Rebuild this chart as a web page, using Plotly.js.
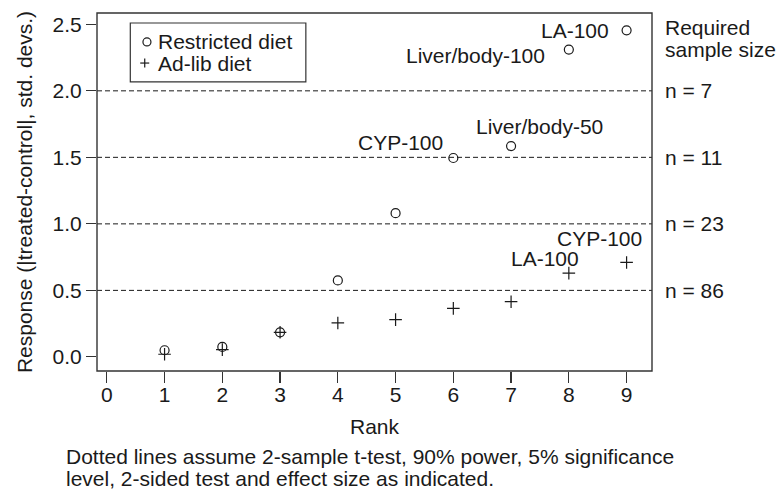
<!DOCTYPE html>
<html>
<head>
<meta charset="utf-8">
<script src="https://cdn.plot.ly/plotly-3.0.1.min.js"></script>
<style>html,body{margin:0;padding:0;background:#fff;}#chart{width:778px;height:491px;}</style>
</head>
<body>
<div id="chart"></div>
<script>
// Data
const ranks = [1, 2, 3, 4, 5, 6, 7, 8, 9];
const restricted = [0.05, 0.075, 0.185, 0.575, 1.08, 1.495, 1.585, 2.31, 2.455];
const adlib = [0.02, 0.055, 0.185, 0.255, 0.28, 0.365, 0.415, 0.63, 0.71];
const seriesNames = ["Restricted diet", "Ad-lib diet"];
const thresholds = [0.5, 1.0, 1.5, 2.0];
const sampleSizes = ["n = 86", "n = 23", "n = 11", "n = 7"];
const xTicks = [0, 1, 2, 3, 4, 5, 6, 7, 8, 9];
const yTicks = [0, 0.5, 1.0, 1.5, 2.0, 2.5];
// point labels: [series, rank index, text]
const pointLabels = [
  ["R", 8, "LA-100"],
  ["R", 7, "Liver/body-100"],
  ["R", 5, "CYP-100"],
  ["R", 6, "Liver/body-50"],
  ["A", 8, "CYP-100"],
  ["A", 7, "LA-100"]
];
const captionLines = [
  "Dotted lines assume 2-sample t-test, 90% power, 5% significance",
  "level, 2-sided test and effect size as indicated."
];

const FONT = "Liberation Sans, Arial, Helvetica, sans-serif";
const FS = 21;
const INK = "#1a1a1a";

const traces = [
  {x: ranks, y: restricted, name: seriesNames[0], type: "scatter", mode: "markers", showlegend: false,
   marker: {symbol: "circle-open", size: 9, color: INK, line: {width: 1.2, color: INK}}},
  {x: ranks, y: adlib, name: seriesNames[1], type: "scatter", mode: "markers", showlegend: false,
   marker: {symbol: "cross-thin-open", size: 9, color: INK, line: {width: 1.2, color: INK}}}
];

// label offsets (style, not data)
const labelStyle = {
  "R8": {xanchor: "right", xshift: -16, yshift: 0},
  "R7": {xanchor: "right", xshift: -22, yshift: -6},
  "R5": {xanchor: "right", xshift: -8, yshift: 16},
  "R6": {xanchor: "left", xshift: -37, yshift: 20},
  "A8": {xanchor: "right", xshift: 17, yshift: 24},
  "A7": {xanchor: "right", xshift: 12, yshift: 15}
};

const annotations = [];
pointLabels.forEach(([s, i, t]) => {
  const st = labelStyle[s + i];
  annotations.push({x: ranks[i], y: (s === "R" ? restricted : adlib)[i], xref: "x", yref: "y",
    text: t, showarrow: false, xanchor: st.xanchor, yanchor: "middle",
    xshift: st.xshift, yshift: st.yshift, font: {family: FONT, size: FS, color: INK}});
});
thresholds.forEach((v, k) => {
  annotations.push({x: 1, xref: "paper", y: v, yref: "y", text: sampleSizes[k], showarrow: false,
    xanchor: "left", yanchor: "middle", xshift: 11, font: {family: FONT, size: FS, color: INK}});
});
annotations.push({x: 1, xref: "paper", y: 0.959, yref: "paper", text: "Required", showarrow: false,
  xanchor: "left", yanchor: "middle", xshift: 11, font: {family: FONT, size: FS, color: INK}});
annotations.push({x: 1, xref: "paper", y: 0.897, yref: "paper", text: "sample size", showarrow: false,
  xanchor: "left", yanchor: "middle", xshift: 11, font: {family: FONT, size: FS, color: INK}});
captionLines.forEach((t, k) => {
  annotations.push({x: 0, xref: "paper", y: [-0.2384, -0.3003][k], yref: "paper", text: t, showarrow: false,
    xanchor: "left", yanchor: "middle", xshift: -32, borderpad: 0, font: {family: FONT, size: FS, color: INK}});
});

// legend (drawn as a key box in paper space)
const legX = 0.0900, legRowY = [0.9191, 0.8602];
annotations.push({x: legX, xref: "paper", y: legRowY[0], yref: "paper", text: seriesNames[0], showarrow: false,
  xanchor: "left", yanchor: "middle", xshift: 9, font: {family: FONT, size: FS, color: INK}});
annotations.push({x: legX, xref: "paper", y: legRowY[1], yref: "paper", text: seriesNames[1], showarrow: false,
  xanchor: "left", yanchor: "middle", xshift: 9, font: {family: FONT, size: FS, color: INK}});

const shapes = thresholds.map(v => ({type: "line", xref: "x domain", x0: 0, x1: 1, yref: "y", y0: v, y1: v,
  line: {color: INK, width: 1, dash: "5px,3px"}, layer: "below"}));
shapes.push({type: "rect", xref: "x domain", yref: "y domain", x0: 0, x1: 1, y0: 0, y1: 1,
  line: {color: "#333", width: 1.4}, fillcolor: "rgba(0,0,0,0)"});
// legend box
shapes.push({type: "rect", xref: "paper", yref: "paper", x0: 0.060, x1: 0.3763, y0: 0.8076, y1: 0.9721,
  line: {color: "#333", width: 1.2}, fillcolor: "#fff"});
// legend keys
shapes.push({type: "circle", xref: "paper", yref: "paper", xsizemode: "pixel", ysizemode: "pixel",
  xanchor: legX, yanchor: legRowY[0], x0: -4, x1: 4, y0: -4, y1: 4, line: {color: INK, width: 1.2}});
shapes.push({type: "line", xref: "paper", yref: "paper", xsizemode: "pixel", ysizemode: "pixel",
  xanchor: legX - 0.004, yanchor: legRowY[1], x0: -4.5, x1: 4.5, y0: 0, y1: 0, line: {color: INK, width: 1.2}});
shapes.push({type: "line", xref: "paper", yref: "paper", xsizemode: "pixel", ysizemode: "pixel",
  xanchor: legX - 0.004, yanchor: legRowY[1], x0: 0, x1: 0, y0: -4.5, y1: 4.5, line: {color: INK, width: 1.2}});

const layout = {
  width: 778, height: 491,
  margin: {l: 97, r: 126, t: 13, b: 120},
  paper_bgcolor: "#fff", plot_bgcolor: "#fff",
  font: {family: FONT, size: FS, color: INK},
  showlegend: false,
  xaxis: {range: [-0.17, 9.44], tickvals: xTicks, ticks: "outside", ticklen: 11, tickwidth: 1.2,
    tickcolor: "#333", showgrid: false, zeroline: false, showline: false, ticklabelstandoff: -6,
    tickfont: {family: FONT, size: FS, color: INK},
    title: {text: "Rank", font: {family: FONT, size: FS, color: INK}, standoff: 14}},
  yaxis: {range: [-0.106, 2.585], tickvals: yTicks, tickformat: ".1f", ticks: "outside", ticklen: 10,
    tickwidth: 1.2, tickcolor: "#333", showgrid: false, zeroline: false, showline: false,
    tickfont: {family: FONT, size: FS, color: INK},
    title: {text: "Response (|treated-control|, std. devs.)", font: {family: FONT, size: FS, color: INK}, standoff: 14}},
  shapes: shapes,
  annotations: annotations
};

Plotly.newPlot("chart", traces, layout, {displayModeBar: false, staticPlot: true});
</script>
</body>
</html>
